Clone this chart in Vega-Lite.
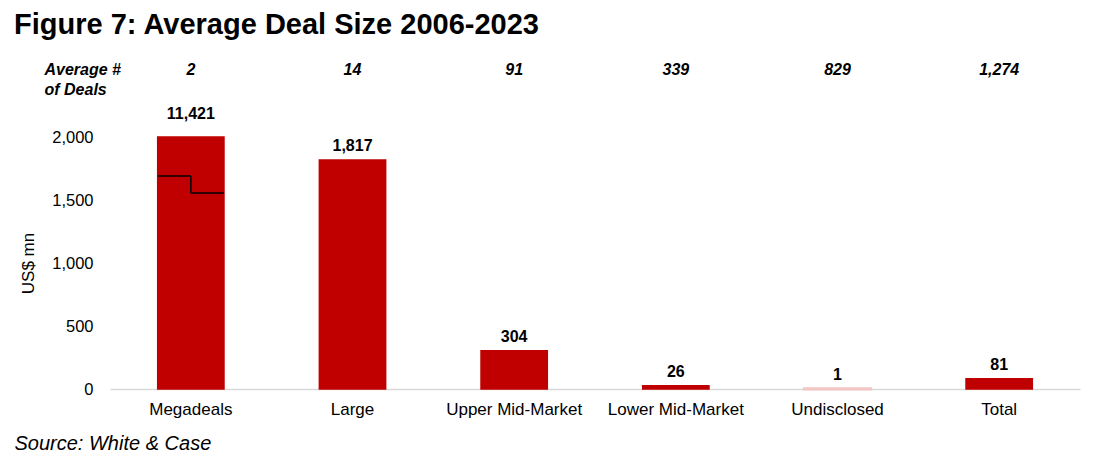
{
  "$schema": "https://vega.github.io/schema/vega-lite/v6.json",
  "padding": {"left": 14, "top": 11, "right": 10, "bottom": 5},
  "background": "white",
  "title": {"text": "Figure 7: Average Deal Size 2006-2023", "anchor": "start", "frame": "bounds", "font": "Liberation Sans", "fontSize": 29, "fontWeight": "bold", "color": "black", "offset": 20},
  "config": {"view": {"stroke": null}, "font": "Liberation Sans"},
  "bounds": "flush",
  "spacing": 57,
  "datasets": {
    "deals": [
      {"Category": "Megadeals", "Size": 11421, "Deals": 2},
      {"Category": "Large", "Size": 1817, "Deals": 14},
      {"Category": "Upper Mid-Market", "Size": 304, "Deals": 91},
      {"Category": "Lower Mid-Market", "Size": 26, "Deals": 339},
      {"Category": "Undisclosed", "Size": 1, "Deals": 829},
      {"Category": "Total", "Size": 81, "Deals": 1274}
    ],
    "breaks": [
      {"Category": "Megadeals", "upper": 1690, "lower": 1556}
    ]
  },
  "vconcat": [
    {
      "width": 970,
      "height": 20,
      "data": {"name": "deals"},
      "mark": {"type": "text", "fontSize": 16, "fontWeight": "bold", "fontStyle": "italic", "baseline": "middle", "color": "black"},
      "encoding": {
        "x": {"field": "Category", "type": "nominal", "sort": ["Megadeals", "Large", "Upper Mid-Market", "Lower Mid-Market", "Undisclosed", "Total"], "scale": {"paddingInner": 0.59, "paddingOuter": 0.295}, "axis": null},
        "y": {"datum": "row", "type": "nominal", "axis": {"title": ["Average #", "of Deals"], "labels": false, "ticks": false, "domain": false, "grid": false, "titleAngle": 0, "titleAlign": "left", "titleBaseline": "alphabetic", "titleX": -66, "titleY": 14, "titleFontSize": 16, "titleFontWeight": "bold", "titleFontStyle": "italic", "titleLineHeight": 20, "titleColor": "black"}},
        "text": {"field": "Deals", "type": "quantitative", "format": ",.0f"}
      }
    },
    {
      "width": 970,
      "height": 252,
      "layer": [
        {
          "data": {"name": "deals"},
          "mark": {"type": "bar"},
          "encoding": {
            "x": {"field": "Category", "type": "nominal", "sort": ["Megadeals", "Large", "Upper Mid-Market", "Lower Mid-Market", "Undisclosed", "Total"], "scale": {"paddingInner": 0.59, "paddingOuter": 0.295},
              "axis": {"title": "Source: White & Case", "labelAngle": 0, "labelFontSize": 17, "labelColor": "black", "labelPadding": 12, "ticks": false, "tickSize": 0, "domainColor": "#d9d9d9", "domainWidth": 1.5, "titleAnchor": "start", "titleAlign": "left", "titleX": -96, "titleY": 60, "titleBaseline": "alphabetic", "titleFontSize": 20, "titleFontStyle": "italic", "titleFontWeight": "normal", "titleColor": "black"}},
            "y": {"field": "Size", "type": "quantitative", "scale": {"domain": [0, 2000], "clamp": true, "nice": false},
              "axis": {"title": "US$ mn", "values": [0, 500, 1000, 1500, 2000], "format": ",.0f", "grid": false, "domain": false, "ticks": false, "tickSize": 0, "labelPadding": 17, "labelFontSize": 16.5, "labelColor": "black", "titleFontSize": 17, "titleFontWeight": "normal", "titleColor": "black", "titlePadding": 14}},
            "color": {"condition": {"test": "datum.Category === 'Undisclosed'", "value": "#F3C6C6"}, "value": "#C00000"},
            "stroke": {"condition": {"test": "datum.Category === 'Undisclosed'", "value": "#F3C6C6"}, "value": "#C00000"},
            "strokeWidth": {"condition": {"test": "datum.Category === 'Undisclosed'", "value": 3}, "value": 1.5}
          }
        },
        {
          "data": {"name": "deals"},
          "transform": [{"filter": "datum.Size <= 2000"}],
          "mark": {"type": "text", "baseline": "bottom", "dy": -6, "fontSize": 16, "fontWeight": "bold", "color": "black"},
          "encoding": {
            "x": {"field": "Category", "type": "nominal", "sort": ["Megadeals", "Large", "Upper Mid-Market", "Lower Mid-Market", "Undisclosed", "Total"]},
            "y": {"field": "Size", "type": "quantitative"},
            "text": {"field": "Size", "type": "quantitative", "format": ",.0f"}
          }
        },
        {
          "data": {"name": "deals"},
          "transform": [{"filter": "datum.Size > 2000"}],
          "mark": {"type": "text", "baseline": "bottom", "dy": -15, "fontSize": 16, "fontWeight": "bold", "color": "black"},
          "encoding": {
            "x": {"field": "Category", "type": "nominal", "sort": ["Megadeals", "Large", "Upper Mid-Market", "Lower Mid-Market", "Undisclosed", "Total"]},
            "y": {"field": "Size", "type": "quantitative"},
            "text": {"field": "Size", "type": "quantitative", "format": ",.0f"}
          }
        },
        {
          "data": {"name": "breaks"},
          "mark": {"type": "tick", "orient": "horizontal", "size": 33, "thickness": 1.5, "xOffset": -16.5, "color": "black", "opacity": 1},
          "encoding": {
            "x": {"field": "Category", "type": "nominal", "sort": ["Megadeals", "Large", "Upper Mid-Market", "Lower Mid-Market", "Undisclosed", "Total"]},
            "y": {"field": "upper", "type": "quantitative"}
          }
        },
        {
          "data": {"name": "breaks"},
          "mark": {"type": "tick", "orient": "horizontal", "size": 33, "thickness": 1.5, "xOffset": 16.5, "color": "black", "opacity": 1},
          "encoding": {
            "x": {"field": "Category", "type": "nominal", "sort": ["Megadeals", "Large", "Upper Mid-Market", "Lower Mid-Market", "Undisclosed", "Total"]},
            "y": {"field": "lower", "type": "quantitative"}
          }
        },
        {
          "data": {"name": "breaks"},
          "mark": {"type": "rule", "color": "black", "strokeWidth": 1.5},
          "encoding": {
            "x": {"field": "Category", "type": "nominal", "sort": ["Megadeals", "Large", "Upper Mid-Market", "Lower Mid-Market", "Undisclosed", "Total"]},
            "y": {"field": "lower", "type": "quantitative"},
            "y2": {"field": "upper"}
          }
        }
      ]
    }
  ],
  "resolve": {"scale": {"x": "independent", "y": "independent"}}
}
